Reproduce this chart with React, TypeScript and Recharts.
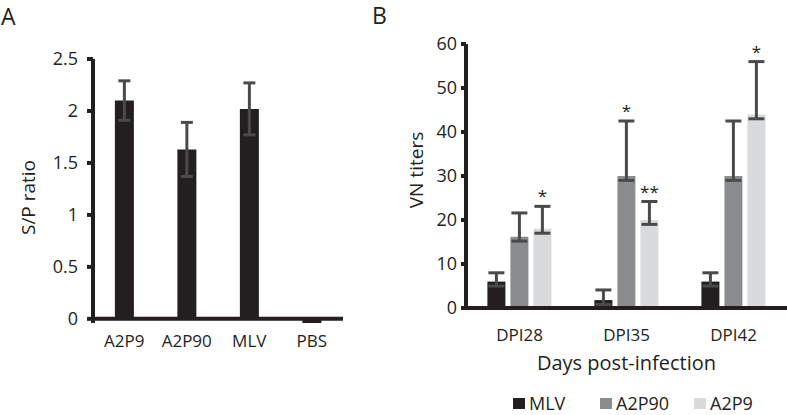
import React from 'react';
import { BarChart, Bar, XAxis, YAxis, ErrorBar, ReferenceLine } from 'recharts';

// ---------- Panel A data ----------
const groupsA = ['A2P9', 'A2P90', 'MLV', 'PBS'];
const spRatio = [2.1, 1.63, 2.02, -0.04];
const spRatioErr = [0.19, 0.26, 0.25, null];
const ticksA = [0, 0.5, 1, 1.5, 2, 2.5];

// ---------- Panel B data ----------
const days = ['DPI28', 'DPI35', 'DPI42'];
const mlvTiters = [6, 1.8, 6];
const mlvErrUp = [2, 2.3, 2];
const a2p90Titers = [16.2, 30, 30];
const a2p90ErrUp = [5.4, 12.5, 12.5];
const a2p9Titers = [18, 20, 44];
const a2p9ErrUp = [5.1, 4.2, 12];
const errDown = [1, 1, 1];
const a2p90Sig = ['', '*', ''];
const a2p9Sig = ['*', '**', '*'];
const ticksB = [0, 10, 20, 30, 40, 50, 60];
const seriesB = [
  { key: 'mlv', name: 'MLV', color: '#231f20', sig: null as null | string[], errUp: mlvErrUp },
  { key: 'a2p90', name: 'A2P90', color: '#8b8c8e', sig: a2p90Sig, errUp: a2p90ErrUp },
  { key: 'a2p9', name: 'A2P9', color: '#d9dadb', sig: a2p9Sig, errUp: a2p9ErrUp },
];

const dataA = groupsA.map((g, i) => ({ group: g, value: spRatio[i], err: spRatioErr[i] }));
const dataB = days.map((d, i) => ({
  day: d,
  mlv: mlvTiters[i],
  mlvErr: [errDown[i], mlvErrUp[i]],
  a2p90: a2p90Titers[i],
  a2p90Err: [errDown[i], a2p90ErrUp[i]],
  a2p9: a2p9Titers[i],
  a2p9Err: [errDown[i], a2p9ErrUp[i]],
}));

// ---------- styling ----------
const FONT = "'Open Sans', sans-serif";
const INK = '#231f20';
const ERR = '#4a4a4c';
const LEGEND_X = [513, 600, 694];

const makeYTitle = (text: string, dx: number, dyFromCenter: number) => (props: any) => {
  const vb = props.viewBox || {};
  const cx = vb.x + dx;
  const cy = vb.y + vb.height / 2 + dyFromCenter;
  return (
    <text
      x={cx}
      y={cy}
      transform={`rotate(-90, ${cx}, ${cy})`}
      textAnchor="middle"
      dominantBaseline="central"
      fontFamily={FONT}
      fontSize={19}
      fill={INK}
    >
      {text}
    </text>
  );
};

const makeXTitle = (text: string, baselineOffset: number) => (props: any) => {
  const vb = props.viewBox || {};
  return (
    <text
      x={vb.x + vb.width / 2}
      y={vb.y + baselineOffset}
      textAnchor="middle"
      fontFamily={FONT}
      fontSize={20}
      fill={INK}
    >
      {text}
    </text>
  );
};

const makeStarLabel = (sig: string[], errUp: number[], values: number[]) => (props: any) => {
  const idx = props.index;
  const s = sig[idx];
  if (!s) return null;
  const vb = props.viewBox || {};
  const x = props.x ?? vb.x;
  const y = props.y ?? vb.y;
  const w = props.width ?? vb.width;
  const h = props.height ?? vb.height;
  const v = values[idx];
  const ppu = Math.abs(h) / v;
  const errTop = y - errUp[idx] * ppu;
  return (
    <text
      key={`star-${idx}`}
      x={x + w / 2}
      y={errTop - 4}
      textAnchor="middle"
      fontFamily={FONT}
      fontSize={17}
      fill={INK}
    >
      {s}
    </text>
  );
};

export default function App() {
  return (
    <div style={{ position: 'absolute', left: 0, top: 0, width: 787, height: 415, background: '#fff', fontFamily: FONT }}>
      {/* Panel A */}
      <div style={{ position: 'absolute', left: 0, top: 0 }}>
        <BarChart
          width={380}
          height={415}
          data={dataA}
          margin={{ top: 59, right: 37, left: 0, bottom: 62 }}
          barCategoryGap="35%"
        >
          <XAxis
            dataKey="group"
            axisLine={false}
            tickLine={false}
            tickSize={0}
            tickMargin={12}
            height={30}
            tick={{ fill: INK, fontSize: 17, fontFamily: FONT }}
          />
          <YAxis
            type="number"
            domain={[0, 2.5]}
            ticks={ticksA}
            width={93}
            axisLine={{ stroke: INK, strokeWidth: 4 }}
            tickLine={{ stroke: INK, strokeWidth: 4 }}
            tickSize={6}
            tickMargin={9}
            tick={{ fill: INK, fontSize: 18, fontFamily: FONT }}
            label={{ content: makeYTitle('S/P ratio', 28, 6.5) }}
          />
          <Bar dataKey="value" fill={INK} isAnimationActive={false}>
            <ErrorBar dataKey="err" width={6} strokeWidth={3} stroke={ERR} direction="y" />
          </Bar>
          <ReferenceLine y={0} stroke={INK} strokeWidth={4} />
        </BarChart>
      </div>

      {/* Panel B */}
      <div style={{ position: 'absolute', left: 380, top: 0 }}>
        <BarChart
          width={407}
          height={415}
          data={dataB}
          margin={{ top: 44, right: 0, left: 0, bottom: 37 }}
          barCategoryGap="20%"
          barGap={5}
        >
          <XAxis
            dataKey="day"
            axisLine={{ stroke: INK, strokeWidth: 4 }}
            tickLine={false}
            tickSize={0}
            tickMargin={21}
            height={70}
            tick={{ fill: INK, fontSize: 17, fontFamily: FONT }}
            label={{ content: makeXTitle('Days post-infection', 62) }}
          />
          <YAxis
            type="number"
            domain={[0, 60]}
            ticks={ticksB}
            width={86}
            axisLine={{ stroke: INK, strokeWidth: 4 }}
            tickLine={{ stroke: INK, strokeWidth: 4 }}
            tickSize={5}
            tickMargin={4}
            tick={{ fill: INK, fontSize: 18, fontFamily: FONT }}
            label={{ content: makeYTitle('VN titers', 36, -6) }}
          />
          {seriesB.map((s) => (
            <Bar
              key={s.key}
              dataKey={s.key}
              name={s.name}
              fill={s.color}
              isAnimationActive={false}
              label={
                s.sig
                  ? makeStarLabel(s.sig, s.errUp, dataB.map((r: any) => r[s.key]))
                  : false
              }
            >
              <ErrorBar dataKey={`${s.key}Err`} width={8} strokeWidth={3} stroke={ERR} direction="y" />
            </Bar>
          ))}
        </BarChart>
      </div>

      {/* Panel letters and legend */}
      <svg
        width={787}
        height={415}
        style={{ position: 'absolute', left: 0, top: 0, pointerEvents: 'none' }}
      >
        <text x={1} y={25} fontFamily={FONT} fontSize={23} fill={INK}>A</text>
        <text x={372} y={24} fontFamily={FONT} fontSize={23} fill={INK}>B</text>
        {seriesB.map((s, i) => (
          <g key={s.key}>
            <rect x={LEGEND_X[i]} y={398} width={12} height={11} fill={s.color} />
            <text x={LEGEND_X[i] + 16} y={410} fontFamily={FONT} fontSize={18} fill={INK}>
              {s.name}
            </text>
          </g>
        ))}
      </svg>
    </div>
  );
}
